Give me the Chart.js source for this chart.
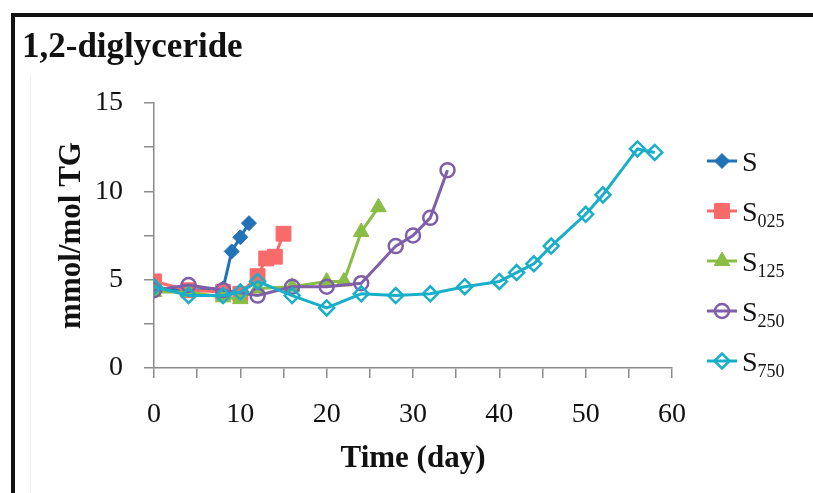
<!DOCTYPE html>
<html>
<head>
<meta charset="utf-8">
<script src="https://cdn.jsdelivr.net/npm/chart.js@4.4.1/dist/chart.umd.min.js"></script>
<style>
  html, body { margin: 0; padding: 0; background: #fff; }
  #wrap { position: relative; width: 813px; height: 493px; overflow: hidden; }
  #frame { position: absolute; left: 11px; top: 13px; width: 900px; height: 600px;
           border-left: 4px solid #111; border-top: 4px solid #111; }
  #inner { position: absolute; left: 30px; top: 75px; width: 1px; height: 500px; background: #f0f0f0; }
  canvas { position: absolute; left: 0; top: 0; }
</style>
</head>
<body>
<div id="wrap">
  <div id="frame"></div>
  <div id="inner"></div>
  <canvas id="grafico" width="813" height="493"></canvas>
</div>
<script>
// dias de amostragem e teores (mmol/mol TG) por série
const diasS    = [0, 4, 8, 9, 10, 11];
const valoresS = [4.5, 4.4, 4.5, 6.6, 7.4, 8.2];

const diasS025    = [0, 4, 8, 10, 12, 13, 14, 15];
const valoresS025 = [4.9, 4.4, 4.3, 4.2, 5.2, 6.2, 6.3, 7.6];

const diasS125    = [0, 4, 8, 10, 12, 16, 20, 22, 24, 26];
const valoresS125 = [4.3, 4.3, 4.0, 3.9, 4.5, 4.6, 4.9, 4.9, 7.7, 9.1];

const diasS250    = [0, 4, 8, 12, 16, 20, 24, 28, 30, 32, 34];
const valoresS250 = [4.4, 4.7, 4.4, 4.1, 4.6, 4.6, 4.8, 6.9, 7.5, 8.5, 11.2];

const diasS750    = [0, 4, 8, 10, 12, 16, 20, 24, 28, 32, 36, 40, 42, 44, 46, 50, 52, 56, 58];
const valoresS750 = [4.6, 4.1, 4.1, 4.3, 4.9, 4.1, 3.4, 4.2, 4.1, 4.2, 4.6, 4.9, 5.4, 5.9, 6.9, 8.7, 9.8, 12.4, 12.2];

const nomes = ['S', 'S', 'S', 'S', 'S'];
const subscritos = ['', '025', '125', '250', '750'];

const titulo = '1,2-diglyceride';
const tituloX = 'Time (day)';
const tituloY = 'mmol/mol TG';

const fonte = "'Liberation Serif', 'Times New Roman', serif";
const cinza = '#8c8c8c';

function pares(xs, ys) {
    return xs.map((x, i) => ({ x: x, y: ys[i] }));
}

function serie(nome, xs, ys, cor, estilo, raio, aberto, ordem) {
    return {
        label: nome,
        data: pares(xs, ys),
        borderColor: cor,
        backgroundColor: cor,
        borderWidth: 3,
        pointStyle: estilo,
        pointRadius: raio,
        pointHoverRadius: raio,
        pointBorderColor: cor,
        pointBackgroundColor: aberto ? 'rgba(255,255,255,0)' : cor,
        pointBorderWidth: aberto ? 2.5 : 1,
        tension: 0,
        order: ordem
    };
}

const conjuntos = [
    serie('S',    diasS,    valoresS,    '#2172b6', 'rectRot',  7.5,  false, 5),
    serie('S025', diasS025, valoresS025, '#f96b6b', 'rect',     10.5, false, 4),
    serie('S125', diasS125, valoresS125, '#8abd45', 'triangle', 9,    false, 3),
    serie('S250', diasS250, valoresS250, '#7f5fa9', 'circle',   7,    true,  2),
    serie('S750', diasS750, valoresS750, '#19afc8', 'rectRot',  7.5,  true,  1)
];

// título e legenda desenhados à mão (legenda com subscrito)
const extras = {
    id: 'extras',
    afterDraw(chart) {
        const ctx = chart.ctx;
        ctx.save();
        ctx.fillStyle = '#111';
        ctx.font = "bold 35px " + fonte;
        ctx.textBaseline = 'alphabetic';
        ctx.textAlign = 'left';
        ctx.fillText(titulo, 22, 57);

        conjuntos.forEach((ds, i) => {
            const y = 161 + i * 50;
            ctx.strokeStyle = ds.borderColor;
            ctx.lineWidth = 3;
            ctx.beginPath();
            ctx.moveTo(707, y);
            ctx.lineTo(737, y);
            ctx.stroke();

            ctx.fillStyle = ds.pointBackgroundColor;
            ctx.strokeStyle = ds.pointBorderColor;
            ctx.lineWidth = ds.pointBorderWidth;
            Chart.helpers.drawPoint(ctx, {
                pointStyle: ds.pointStyle,
                radius: ds.pointRadius,
                rotation: 0,
                borderWidth: ds.pointBorderWidth
            }, 722, y);

            ctx.fillStyle = '#111';
            ctx.font = "28px " + fonte;
            ctx.fillText(nomes[i], 742, y + 10);
            const w = ctx.measureText(nomes[i]).width;
            if (subscritos[i]) {
                ctx.font = "18px " + fonte;
                ctx.fillText(subscritos[i], 742 + w, y + 16);
            }
        });
        ctx.restore();
    }
};

const ctx = document.getElementById('grafico').getContext('2d');

new Chart(ctx, {
    type: 'line',
    data: { datasets: conjuntos },
    options: {
        responsive: false,
        animation: false,
        events: [],
        layout: { padding: { left: 0, top: 103, right: 141, bottom: 0 } },
        plugins: {
            legend: { display: false },
            tooltip: { enabled: false }
        },
        scales: {
            x: {
                type: 'linear',
                min: 0,
                max: 60,
                afterFit(scale) { scale.height = 125; },
                border: { display: true, color: cinza, width: 1.5 },
                grid: { drawOnChartArea: false, drawTicks: true, tickLength: 10, color: cinza, lineWidth: 1.5 },
                ticks: {
                    stepSize: 5,
                    autoSkip: false,
                    maxRotation: 0,
                    padding: 20,
                    color: '#111',
                    font: { family: fonte, size: 28 },
                    callback: v => (v % 10 === 0 ? v : '')
                },
                title: {
                    display: true,
                    text: tituloX,
                    color: '#111',
                    font: { family: fonte, size: 31, weight: 'bold' },
                    padding: { top: 0, bottom: 15 }
                }
            },
            y: {
                min: 0,
                max: 15,
                afterFit(scale) { scale.width = 154; },
                border: { display: true, color: cinza, width: 1.5 },
                grid: { drawOnChartArea: false, drawTicks: true, tickLength: 10, color: cinza, lineWidth: 1.5 },
                ticks: {
                    stepSize: 2.5,
                    autoSkip: false,
                    padding: 21,
                    color: '#111',
                    font: { family: fonte, size: 28 },
                    callback: v => (v % 5 === 0 ? v : '')
                },
                title: {
                    display: true,
                    text: tituloY,
                    color: '#111',
                    font: { family: fonte, size: 31, weight: 'bold' },
                    padding: { top: 53, bottom: 0 }
                }
            }
        }
    },
    plugins: [extras]
});
</script>
</body>
</html>
